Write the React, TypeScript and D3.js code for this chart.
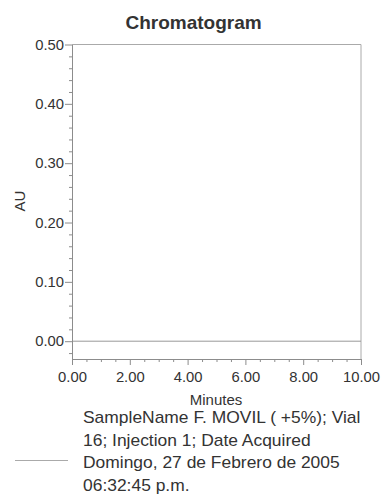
import React, { useEffect, useRef } from 'react'
import { select, axisLeft, axisBottom, scaleLinear, line, range } from 'd3'

// retention time (min) and absorbance (AU) of the trace - flat baseline
const times = [0, 10]
const absorbance = [0, 0]

const yMajorTicks = [0, 0.1, 0.2, 0.3, 0.4, 0.5]
const xMajorTicks = [0, 2, 4, 6, 8, 10]

const title = 'Chromatogram'
const xTitle = 'Minutes'
const yTitle = 'AU'
const legendLines = [
  'SampleName F. MOVIL ( +5%); Vial',
  '16; Injection 1; Date Acquired',
  'Domingo, 27 de Febrero de 2005',
  '06:32:45 p.m.',
]

const W = 381
const H = 504
const FONT = 'Arial, "Liberation Sans", sans-serif'
const AXIS = '#8c8c8c'
const INK = '#333'

const App = () => {
  const svgRef = useRef<SVGSVGElement>(null)

  useEffect(() => {
    const svg = select(svgRef.current)

    const x = scaleLinear().domain([0, 10]).range([72, 361])
    const y = scaleLinear().domain([-0.03, 0.5]).range([359, 44.5])

    const [x0, x1] = x.range()
    const [yb, yt] = y.range()

    // frame (top + right)
    svg.select('.frame')
      .attr('d', `M${x0},${yt}H${x1}V${yb}`)
      .attr('fill', 'none')
      .attr('stroke', '#aaa')

    // y axis
    const yMinor = range(-0.02, 0.5, 0.02).filter(v => !yMajorTicks.some(t => Math.abs(t - v) < 1e-6))
    svg.select<SVGGElement>('.y-minor')
      .attr('transform', `translate(${x0},0)`)
      .call(axisLeft(y).tickValues(yMinor).tickSize(3).tickSizeOuter(0).tickFormat(() => ''))
    svg.select<SVGGElement>('.y-axis')
      .attr('transform', `translate(${x0},0)`)
      .call(axisLeft(y).tickValues(yMajorTicks).tickSize(7).tickPadding(1).tickSizeOuter(0).tickFormat(d => (+d).toFixed(2)))

    // x axis
    const xMinor = range(0.5, 10, 0.5).filter(v => !xMajorTicks.includes(v))
    svg.select<SVGGElement>('.x-minor')
      .attr('transform', `translate(0,${yb})`)
      .call(axisBottom(x).tickValues(xMinor).tickSize(3).tickSizeOuter(0).tickFormat(() => ''))
    svg.select<SVGGElement>('.x-axis')
      .attr('transform', `translate(0,${yb})`)
      .call(axisBottom(x).tickValues(xMajorTicks).tickSize(6).tickPadding(6).tickSizeOuter(0).tickFormat(d => (+d).toFixed(2)))

    svg.selectAll('.y-axis, .x-axis, .y-minor, .x-minor')
      .call(g => g.selectAll('.domain, line').attr('stroke', AXIS))
      .call(g => g.selectAll('text').attr('fill', INK).attr('font-size', 14.8).attr('font-family', FONT))

    // trace
    const pts = times.map((t, i) => [t, absorbance[i]] as [number, number])
    svg.select('.trace')
      .attr('d', line().x(d => x(d[0])).y(d => y(d[1]))(pts))
      .attr('fill', 'none')
      .attr('stroke', '#999')
  }, [])

  return (
    <svg ref={svgRef} width={W} height={H} style={{ position: 'absolute', left: 0, top: 0, background: '#fff' }}>
      <rect width={W} height={H} fill="#fff" />
      <path className="frame" />
      <path className="trace" />
      <g className="y-minor" />
      <g className="x-minor" />
      <g className="y-axis" />
      <g className="x-axis" />
      <text x={193.5} y={29} textAnchor="middle" fontFamily={FONT} fontWeight="bold" fontSize={19} fill={INK}>{title}</text>
      <text transform="translate(25,201) rotate(-90)" textAnchor="middle" fontFamily={FONT} fontSize={15} fill={INK}>{yTitle}</text>
      <text x={216} y={405} textAnchor="middle" fontFamily={FONT} fontSize={15} fill={INK}>{xTitle}</text>
      <line x1={15} x2={68} y1={460.5} y2={460.5} stroke="#aaa" />
      <g transform="translate(83,0) scale(1.09,1)">
        {legendLines.map((s, i) => (
          <text key={i} x={0} y={423.3 + i * 22.6} fontFamily={FONT} fontSize={16} fill={INK}>{s}</text>
        ))}
      </g>
    </svg>
  )
}

export default App
